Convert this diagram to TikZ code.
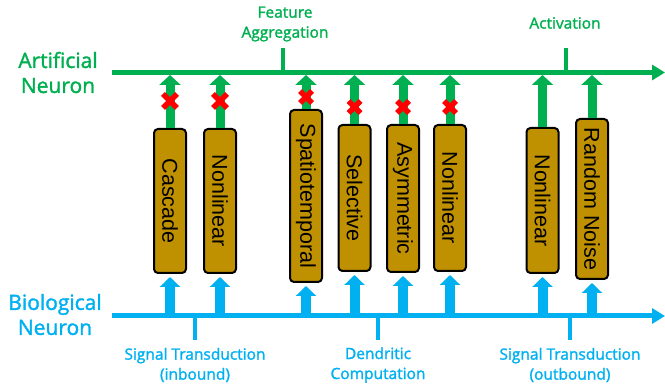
\documentclass[tikz,border=0pt]{standalone}
\usepackage{fontspec}
\setmainfont{Open Sans}
\newfontfamily\labfont{Open Sans}[FakeBold=1.6]
\newfontfamily\boxfont{Liberation Sans}
\usetikzlibrary{arrows.meta}
\definecolor{agreen}{RGB}{0,176,80}
\definecolor{bblue}{RGB}{0,176,240}
\definecolor{boxgold}{RGB}{191,144,0}
\begin{document}
\begin{tikzpicture}[x=1pt,y=-1pt,
  box/.style={draw=black, line width=2pt, fill=boxgold, rounded corners=4pt, rotate=-90,
    minimum height=32pt, inner sep=0pt, font=\boxfont\fontsize{21.5}{24}\selectfont, text=black},
  garrow/.style={agreen, line width=9pt, -{Triangle[width=21pt,length=10pt]}},
  barrow/.style={bblue, line width=10pt, -{Triangle[width=20pt,length=10pt]}, shorten >=3pt},
  mainline/.style={line width=5pt, -{Triangle[width=15pt,length=13pt]}},
  tickline/.style={line width=4pt},
  biglab/.style={font=\labfont\fontsize{21}{25}\selectfont, align=center},
  smlab/.style={font=\labfont\fontsize{15.5}{20}\selectfont, align=center},
  xmark/.style={red, line width=5.5pt}
]
\useasboundingbox (0,0) rectangle (665,385);
% main lines
\coordinate (gs) at (112,72.5);
\coordinate (ge) at (665,72.5);
\coordinate (bs) at (112,316);
\coordinate (be) at (665,316);
\coordinate (gl) at (0,75);
\draw[mainline, agreen] (gs) -- (ge);
\draw[mainline, bblue] (bs) -- (be);
% ticks
\coordinate (fa) at (283,72.5); \coordinate (fat) at (283,48);
\coordinate (ac) at (566,72.5); \coordinate (act) at (566,48);
\coordinate (ti) at (195,316); \coordinate (tib) at (195,340);
\coordinate (dc) at (378,316); \coordinate (dcb) at (378,340);
\coordinate (to) at (570,316); \coordinate (tob) at (570,340);
\draw[tickline, agreen] (fa) -- (fat);
\draw[tickline, agreen] (ac) -- (act);
\draw[tickline, bblue] (ti) -- (tib);
\draw[tickline, bblue] (dc) -- (dcb);
\draw[tickline, bblue] (to) -- (tob);
% labels
\node[biglab, text=agreen] (artlab) at (58,72.5) {Artificial\\Neuron};
\node[biglab, text=bblue] (biolab) at (55,314.5) {Biological\\Neuron};
\node[smlab, text=agreen] (falab) at (285,24) {Feature\\Aggregation};
\node[smlab, text=agreen] (aclab) at (565,23) {Activation};
\node[smlab, text=bblue] (tilab) at (195,365) {Signal Transduction\\(inbound)};
\node[smlab, text=bblue] (dclab) at (378,365) {Dendritic\\Computation};
\node[smlab, text=bblue] (tolab) at (570,365) {Signal Transduction\\(outbound)};
% boxes
\node[box, minimum width=144pt] (cas) at (170,201) {Cascade};
\node[box, minimum width=144pt] (nl1) at (220,201) {Nonlinear};
\node[box, minimum width=172pt] (spa) at (306,196) {Spatiotemporal};
\node[box, minimum width=146pt] (sel) at (354.5,198) {Selective};
\node[box, minimum width=147pt] (asy) at (403,198.5) {Asymmetric};
\node[box, minimum width=146pt] (nl2) at (450,198) {Nonlinear};
\node[box, minimum width=145pt] (nl3) at (542.5,200.5) {Nonlinear};
\node[box, minimum width=160pt] (rnd) at (592,199) {Random Noise};
% arrows
\foreach \n in {cas,nl1,spa,sel,asy,nl2,nl3,rnd}{
  \draw[garrow] (\n.west) -- (\n.west |- gl);
  \draw[barrow] (\n.east |- bs) -- (\n.east);
}
% red crosses
\foreach \x/\y/\s in {170/101/7, 220/101/7, 306/97/6, 354.5/107/6, 403/107/6, 450/107/6}{
  \draw[xmark] (\x-\s,\y-\s) -- (\x+\s,\y+\s) (\x-\s,\y+\s) -- (\x+\s,\y-\s);
}
\end{tikzpicture}
\end{document}
